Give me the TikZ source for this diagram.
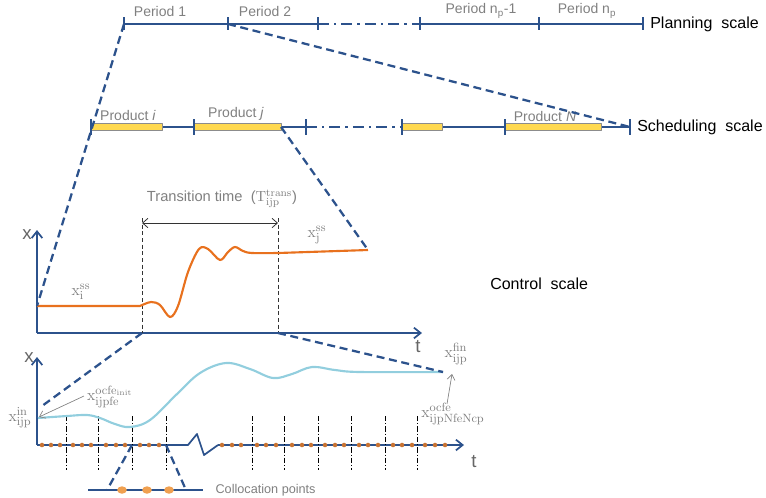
\documentclass[tikz,border=0pt]{standalone}
\usepackage[no-math]{fontspec}
\setmainfont{Liberation Sans}
\usetikzlibrary{arrows.meta,calc}
\definecolor{navy}{RGB}{44,82,140}
\definecolor{curveor}{RGB}{232,113,30}
\definecolor{curvebl}{RGB}{146,206,222}
\definecolor{barY}{RGB}{255,217,80}
\definecolor{dotor}{RGB}{200,115,50}
\definecolor{colldot}{RGB}{240,160,80}
\definecolor{txtgray}{RGB}{128,128,128}
\newcommand{\vx}[2]{$\mathrm{x}^{\mathrm{#2}}_{\mathrm{#1}}$}
\begin{document}
\begin{tikzpicture}[x=0.75pt,y=-0.75pt,line join=round,
  scaleline/.style={navy,line width=1.5pt},
  gapline/.style={navy,line width=1.5pt,dash pattern=on 8pt off 4pt on 1.6pt off 4pt},
  tickmark/.style={navy,line width=1.5pt},
  zoomline/.style={navy,line width=1.7pt,dash pattern=on 6pt off 3.5pt},
  prodbar/.style={fill=barY,draw=black!45,line width=0.6pt},
  axisline/.style={navy,line width=1.3pt,-{Straight Barb[length=5pt,width=8pt]}},
  lbl/.style={text=txtgray,font=\fontsize{10.5}{12}\selectfont,inner sep=1pt},
  scalelbl/.style={text=black,font=\fontsize{12}{14}\selectfont,anchor=west,inner sep=0pt},
  mlbl/.style={text=txtgray,font=\fontsize{12.5}{14}\selectfont,inner sep=0pt},
  axlbl/.style={text=black!60,font=\fontsize{14}{16}\selectfont,inner sep=0pt},
  fe/.style={black,line width=0.5pt,dash pattern=on 4pt off 1.5pt on 0.8pt off 1.5pt},
  pin/.style={txtgray,line width=0.5pt,-{Straight Barb[length=4pt,width=6pt]}},
  axdot/.style={fill=dotor,draw=none},
]
\useasboundingbox (0,0) rectangle (766,497);

% ---------------- planning scale ----------------
\coordinate (P0) at (124,24);
\coordinate (P1) at (228,24);
\coordinate (P2) at (318,24);
\coordinate (P3) at (420,24);
\coordinate (P4) at (539,24);
\coordinate (P5) at (643,24);
\draw[scaleline] (P0) -- (P1) -- (P2);
\draw[gapline] (P2) -- (P3);
\draw[scaleline] (P3) -- (P4) -- (P5);
\foreach \c in {P0,P1,P2,P3,P4,P5}
  \draw[tickmark] (\c) ++(0,-7) -- ++(0,13);
\node[lbl] (per1) at (160,11) {Period 1};
\node[lbl] (per2) at (265,11) {Period 2};
\node[lbl] (pernm) at (481,11) {Period n\textsubscript{p}-1};
\node[lbl] (pern) at (587,11) {Period n\textsubscript{p}};
\node[scalelbl] (plan) at (650,24) {Planning\ \ scale};

% ---------------- scheduling scale ----------------
\coordinate (S0) at (91,127);
\coordinate (S1) at (194,127);
\coordinate (S2) at (306,127);
\coordinate (S3) at (402,127);
\coordinate (S4) at (505,127);
\coordinate (S5) at (630,127);
\coordinate (Ei) at (162,127);
\coordinate (Ej) at (281,127);
\coordinate (Ek) at (442,127);
\coordinate (EN) at (601,127);
\draw[scaleline] (S0) -- (S1) -- (S2);
\draw[gapline] (S2) -- (S3);
\draw[scaleline] (S3) -- (S4) -- (S5);
\foreach \a/\b in {S0/Ei,S1/Ej,S3/Ek,S4/EN}
  \draw[prodbar] ($(\a)+(0,-3.5)$) rectangle ($(\b)+(0,3.5)$);
\foreach \c in {S0,S1,S2,S3,S4,S5}
  \draw[tickmark] (\c) ++(0,-8) -- ++(0,16);
\node[lbl] (pri) at (128,115) {Product \textit{i}};
\node[lbl] (prj) at (236,114) {Product \textit{j}};
\node[lbl] (prN) at (545,116) {Product \textit{N}};
\node[scalelbl] (sched) at (637,127) {Scheduling\ \ scale};

% ---------------- control scale ----------------
\coordinate (C0) at (37,333);
\coordinate (Cy) at (37,230);
\coordinate (Cx) at (422,333);
\coordinate (Cs) at (37,306);
\coordinate (Ce) at (368,250);
\coordinate (Ta) at (142,333);
\coordinate (Tb) at (278,333);
\coordinate (Tat) at (142,218);
\coordinate (Tbt) at (278,218);
\draw[axisline] (C0) -- (Cy);
\draw[axisline] (C0) -- (Cx);
\node[axlbl] (cxl) at (27,235) {x};
\node[axlbl] (ctl) at (418,347) {t};
\draw[black!80,line width=0.5pt,dash pattern=on 3pt off 2pt] (Tat) -- (Ta) (Tbt) -- (Tb);
\draw[black!80,line width=0.6pt,{Straight Barb[length=4pt,width=7pt]}-{Straight Barb[length=4pt,width=7pt]}]
  ($(Tat)+(0,5)$) -- ($(Tbt)+(0,5)$);
\node[lbl,font=\fontsize{11}{13}\selectfont] (trans) at (222,199)
  {Transition time\ \ ($\mathrm{T}^{\mathrm{trans}}_{\mathrm{ijp}}$)};
\draw[curveor,line width=1.6pt] (Cs) -- (140,306)
  plot[smooth,tension=0.55] coordinates {(140,306) (151,302) (160,305) (170,317) (178,306) (188,272) (199,249) (208,249) (220,260) (228,252) (235,247) (243,251) (252,253) (278,253)}
  -- (Ce);
\node[mlbl] (xiss) at (81,292) {\vx{i}{ss}};
\node[mlbl] (xjss) at (317,235) {\vx{j}{ss}};
\node[scalelbl] (ctrl) at (490,284) {Control\ \ scale};

% ---------------- discretised profile ----------------
\coordinate (B0) at (37,445);
\coordinate (By) at (37,357);
\coordinate (Bz) at (188,445);
\coordinate (Bw) at (218,445);
\coordinate (Bx) at (464,445);
\coordinate (Bs) at (38,418);
\coordinate (Be) at (443,372);
\coordinate (Zin) at (42,406);
\draw[axisline] (B0) -- (By);
\draw[navy,line width=1.3pt] (B0) -- (Bz) -- (197,434) -- (204,455) -- (Bw);
\draw[axisline] (Bw) -- (Bx);
\node[axlbl] (bxl) at (29,358) {x};
\node[axlbl] (btl) at (474,462) {t};
\foreach \x in {66,98,132,166,252,284,318,351,385,417}
  \draw[fe] (\x,416) -- (\x,470);
\foreach \x in {42,51,60,73,82,91,106,116,125,140,149,159,222,232,241,257,266,276,292,302,311,325,335,344,359,368,378,393,402,412,425,435,445}
  \fill[axdot] (\x,445) circle[radius=1.7pt];
\draw[curvebl,line width=1.6pt] plot[smooth,tension=0.6] coordinates
  {(Bs) (67,416) (87,415) (100,418) (115,424) (130,427) (150,420) (177,394) (200,373) (226,363) (250,369) (273,378) (292,374) (312,367) (335,370) (360,372) (Be)};
\node[mlbl] (xin) at (20,418) {\vx{ijp}{in}};
\node[mlbl] (xoi) at (110,397) {$\mathrm{x}^{\mathrm{ocfe}_{\mathrm{init}}}_{\mathrm{ijpfe}}$};
\node[mlbl] (xfin) at (456,354) {\vx{ijp}{fin}};
\node[mlbl] (xon) at (453,414) {\vx{ijpNfeNcp}{ocfe}};
\draw[pin] (84,396) -- (39,417);
\draw[pin] (447,404) -- (452,374);

% collocation points of one element
\coordinate (L0) at (88,490);
\coordinate (L1) at (203,490);
\coordinate (La) at (107,490);
\coordinate (Lb) at (186,490);
\coordinate (Fa) at (132,445);
\coordinate (Fb) at (166,445);
\draw[navy,line width=1.2pt] (L0) -- (L1);
\foreach \x in {122,147,169}
  \fill[colldot] (\x,490) ellipse[x radius=3.6pt,y radius=2.8pt];
\node[lbl,font=\fontsize{9.5}{11}\selectfont,anchor=west] (coll) at (214,490) {Collocation points};

% ---------------- zoom connectors between scales ----------------
\draw[zoomline] (P0) -- (Cs);
\draw[zoomline] (P1) -- (S5);
\draw[zoomline] (Ej) -- (Ce);
\draw[zoomline] (Ta) -- (Zin);
\draw[zoomline] (Tb) -- (Be);
\draw[zoomline] (Fa) -- (La);
\draw[zoomline] (Fb) -- (Lb);
\end{tikzpicture}
\end{document}
